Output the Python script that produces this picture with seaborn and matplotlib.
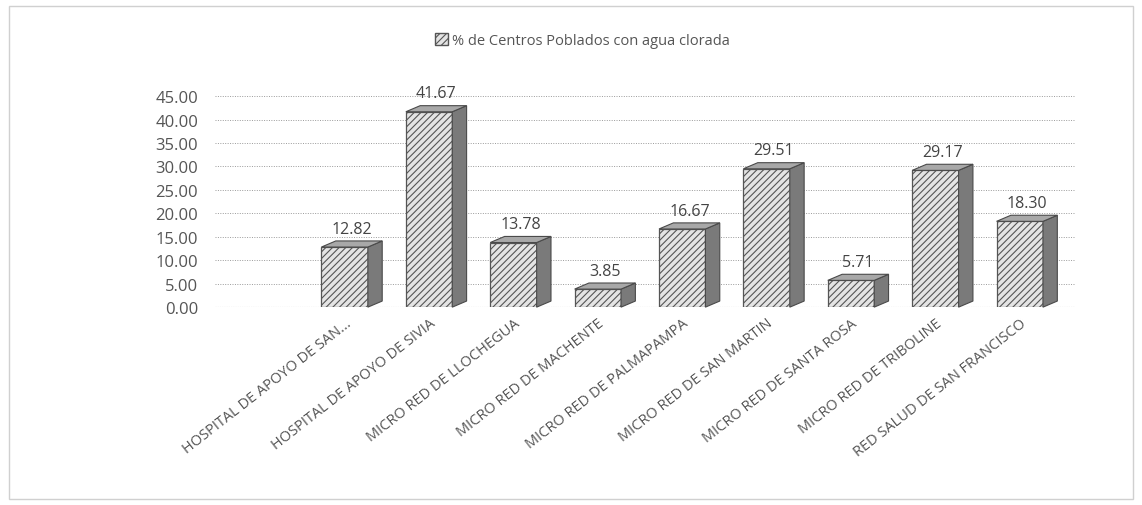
import matplotlib
matplotlib.use("Agg")
import matplotlib.pyplot as plt
import matplotlib.patches as mpatches
import pandas as pd
import seaborn as sns

CATEGORIES = [
    "HOSPITAL DE APOYO DE SAN...",
    "HOSPITAL DE APOYO DE SIVIA",
    "MICRO RED DE LLOCHEGUA",
    "MICRO RED DE MACHENTE",
    "MICRO RED DE PALMAPAMPA",
    "MICRO RED DE SAN MARTIN",
    "MICRO RED DE SANTA ROSA",
    "MICRO RED DE TRIBOLINE",
    "RED SALUD DE SAN FRANCISCO",
]
VALUES = [12.82, 41.67, 13.78, 3.85, 16.67, 29.51, 5.71, 29.17, 18.30]
SERIES = "% de Centros Poblados con agua clorada"
YTICKS = [0, 5, 10, 15, 20, 25, 30, 35, 40, 45]

df = pd.DataFrame({"cat": CATEGORIES, "val": VALUES})

sns.set_theme(style="white")
plt.rcParams["font.family"] = ["Open Sans", "DejaVu Sans"]
plt.rcParams["hatch.color"] = "#6e6e6e"
plt.rcParams["hatch.linewidth"] = 0.8

fig = plt.figure(figsize=(11.42, 5.06), dpi=100)
fig.patches.append(mpatches.Rectangle((0.008, 0.012), 0.984, 0.975, transform=fig.transFigure,
                                      fill=False, edgecolor="#d0d0d0", lw=1))
ax = fig.add_axes([0.188, 0.391, 0.753, 0.417])

sns.barplot(data=df, x="cat", y="val", ax=ax, color="#e4e4e4", width=0.55,
            edgecolor="#555555", linewidth=0.9, saturation=1, zorder=3)

# pseudo 3d depth taken from each bar's own geometry
dx, dy = 0.17, 1.3
for p in ax.patches:
    p.set_hatch("/////")
    x0, w, h = p.get_x(), p.get_width(), p.get_height()
    side = mpatches.Polygon([(x0 + w, 0), (x0 + w + dx, dy), (x0 + w + dx, h + dy), (x0 + w, h)],
                            closed=True, facecolor="#7a7a7a", edgecolor="#4a4a4a", lw=0.8,
                            zorder=3, clip_on=False)
    top = mpatches.Polygon([(x0, h), (x0 + dx, h + dy), (x0 + w + dx, h + dy), (x0 + w, h)],
                           closed=True, facecolor="#a8a8a8", edgecolor="#4a4a4a", lw=0.8,
                           zorder=3, clip_on=False)
    ax.add_patch(side)
    ax.add_patch(top)
    ax.text(x0 + w / 2 + dx / 2, h + dy + 0.9, f"{h:.2f}", ha="center", va="bottom",
            fontsize=11.5, color="#444444", clip_on=False)

ax.set_xlim(-1.54, 8.65)
ax.set_ylim(0, 45)
ax.set_yticks(YTICKS)
ax.set_yticklabels([f"{v:.2f}" for v in YTICKS], fontsize=12, color="#555555")
ax.yaxis.grid(True, linestyle=(0, (1, 1.5)), color="#9a9a9a", lw=0.7, zorder=0)
ax.set_axisbelow(True)
ax.set_xlabel("")
ax.set_ylabel("")
ax.tick_params(axis="y", pad=12, length=0)
ax.tick_params(axis="x", length=0, pad=6)
ax.set_xticks(range(len(CATEGORIES)))
ax.set_xticklabels(CATEGORIES, rotation=38, ha="right", rotation_mode="anchor",
                   fontsize=10.5, color="#555555")
for s in ax.spines.values():
    s.set_visible(False)
ax.axhline(0, color="#9a9a9a", lw=0.8, linestyle=(0, (1, 1)), zorder=1)

handle = mpatches.Patch(facecolor="#e4e4e4", edgecolor="#555555", hatch="/////")
fig.legend([handle], [SERIES], loc="center", bbox_to_anchor=(0.51, 0.918), frameon=False,
           fontsize=10.5, labelcolor="#555555", handlelength=0.9, handleheight=0.9,
           handletextpad=0.3)

fig.savefig("out.png", dpi=100, facecolor="white")
